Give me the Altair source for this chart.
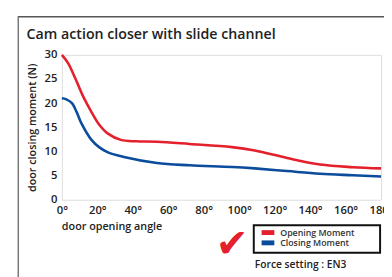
import altair as alt
import pandas as pd

# ---- data ----
angles_open = [0, 3.5, 7.5, 12, 16.8, 21, 26, 33.3, 42, 53.6, 72, 95.9, 108.8, 127, 145.6, 164, 180]
opening = [30.0, 28.3, 25.2, 21.4, 18.1, 15.6, 13.7, 12.4, 12.1, 12.0, 11.55, 10.9, 10.2, 8.65, 7.3, 6.75, 6.5]
angles_close = [0, 2.5, 5.7, 8.3, 11.2, 16.7, 21, 26, 35, 53.6, 72, 96, 108.8, 127, 145.6, 164, 180]
closing = [21.0, 20.8, 20.0, 18.2, 15.7, 12.4, 10.9, 9.8, 8.85, 7.6, 7.15, 6.8, 6.5, 5.95, 5.4, 5.07, 4.8]
series = ["Opening Moment", "Closing Moment"]
colors = ["#e3202c", "#0b4c9c"]
x_ticks = [0, 20, 40, 60, 80, 100, 120, 140, 160, 180]
y_ticks = [0, 5, 10, 15, 20, 25, 30]
title_text = "Cam action closer with slide channel"
x_title = "door opening angle"
y_title = "door closing moment (N)"
note_text = "Force setting : EN3"

FONT = "Open Sans"

df = pd.concat([
    pd.DataFrame({"angle": angles_open, "moment": opening, "series": series[0]}),
    pd.DataFrame({"angle": angles_close, "moment": closing, "series": series[1]}),
])

W, H = 326, 148

lines = alt.Chart(df).mark_line(strokeWidth=2.6, interpolate="catmull-rom").encode(
    x=alt.X("angle:Q", scale=alt.Scale(domain=[0, 180], nice=False),
            axis=alt.Axis(values=x_ticks, title=None, ticks=False, grid=False,
                          labelExpr="datum.value + '°'", labelPadding=5,
                          labelFontSize=11.5, labelFont=FONT, labelFontWeight=600,
                          labelColor="#222", domain=False, labelFlush=False)),
    y=alt.Y("moment:Q", scale=alt.Scale(domain=[0, 30], nice=False),
            axis=alt.Axis(values=y_ticks, title=y_title, ticks=False, grid=False,
                          labelPadding=5, labelFontSize=11.5, labelFont=FONT,
                          labelFontWeight=600, labelColor="#222", domain=False,
                          titleFont=FONT, titleFontSize=11, titleFontWeight=600,
                          titleColor="#222", titlePadding=7)),
    color=alt.Color("series:N", scale=alt.Scale(domain=series, range=colors), legend=None),
    detail="series:N",
)

# outer frame lines
frame_top = alt.Chart().mark_rule(color="#555", strokeWidth=1.5).encode(
    x=alt.value(-45), x2=alt.value(335), y=alt.value(-39))
frame_left = alt.Chart().mark_rule(color="#777", strokeWidth=1.5).encode(
    x=alt.value(-44.5), y=alt.value(-39), y2=alt.value(230))

title = alt.Chart(pd.DataFrame({"t": [title_text]})).mark_text(
    align="left", baseline="alphabetic", font=FONT, fontSize=14.5, fontWeight=600,
    color="#222").encode(x=alt.value(-36), y=alt.value(-16), text="t:N")

xt = alt.Chart(pd.DataFrame({"t": [x_title]})).mark_text(
    align="left", baseline="middle", font=FONT, fontSize=11, fontWeight=600,
    color="#222").encode(x=alt.value(0), y=alt.value(176), text="t:N")

check = alt.Chart(pd.DataFrame({"t": ["✔"]})).mark_text(
    align="center", baseline="middle", font="DejaVu Sans", fontSize=40,
    color="#e3202c").encode(x=alt.value(174), y=alt.value(194), text="t:N")

legend_box = alt.Chart().mark_rect(fill="white", stroke="#111", strokeWidth=2).encode(
    x=alt.value(196), x2=alt.value(325), y=alt.value(174), y2=alt.value(202))

sw_red = alt.Chart().mark_rect(color=colors[0]).encode(
    x=alt.value(204), x2=alt.value(217), y=alt.value(179), y2=alt.value(184))
sw_blue = alt.Chart().mark_rect(color=colors[1]).encode(
    x=alt.value(204), x2=alt.value(217), y=alt.value(189.5), y2=alt.value(194.5))
lab1 = alt.Chart(pd.DataFrame({"t": [series[0]]})).mark_text(
    align="left", baseline="middle", font=FONT, fontSize=9, fontWeight=600,
    color="#333").encode(x=alt.value(223), y=alt.value(181.5), text="t:N")
lab2 = alt.Chart(pd.DataFrame({"t": [series[1]]})).mark_text(
    align="left", baseline="middle", font=FONT, fontSize=9, fontWeight=600,
    color="#333").encode(x=alt.value(223), y=alt.value(192.5), text="t:N")

note = alt.Chart(pd.DataFrame({"t": [note_text]})).mark_text(
    align="left", baseline="middle", font=FONT, fontSize=10.5, fontWeight=600,
    color="#222").encode(x=alt.value(197), y=alt.value(215), text="t:N")

chart = alt.layer(
    frame_top, frame_left, lines, title, xt, check, legend_box,
    sw_red, sw_blue, lab1, lab2, note
).properties(
    width=W, height=H,
    autosize=alt.AutoSizeParams(type="none"),
    padding={"left": 55, "top": 45, "right": 3, "bottom": 76},
).configure_view(stroke="#111", strokeWidth=2).configure(background="white")

chart.save("out.html", embed_options={"renderer": "svg", "actions": False})
